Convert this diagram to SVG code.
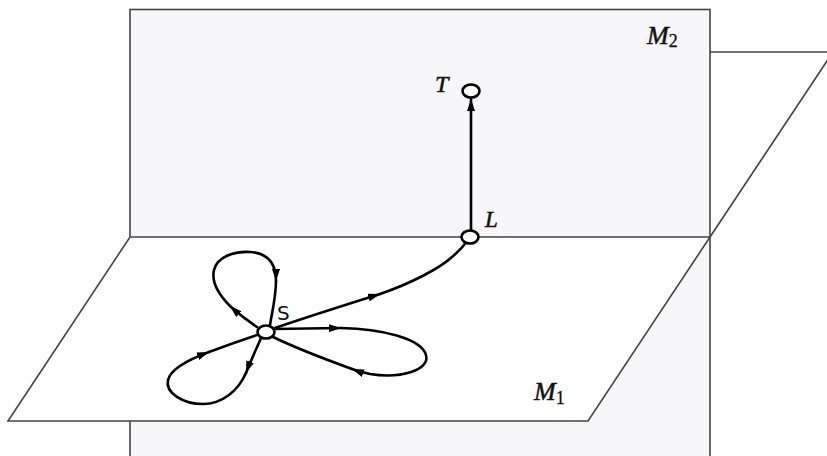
<svg xmlns="http://www.w3.org/2000/svg" width="827" height="456" viewBox="0 0 827 456">
<style>
.plane{stroke:#444;stroke-width:1.6;stroke-linejoin:miter}
.edge{fill:none;stroke:#444;stroke-width:1.6}
.curve{fill:none;stroke:#000;stroke-width:2.6;stroke-linecap:round}
.node{fill:#fff;stroke:#000;stroke-width:2.6}
.math{font-family:"Liberation Serif",serif;font-style:italic;fill:#111;stroke:#111;stroke-width:0.5}
.sub{font-family:"Liberation Serif",serif;font-style:normal;stroke-width:0.3}
.sans{font-family:"DejaVu Sans",sans-serif;fill:#111}
</style>
<defs>
<marker id="ah" viewBox="0 0 12 8" refX="12" refY="4" markerWidth="12" markerHeight="8" markerUnits="userSpaceOnUse" orient="auto">
<path d="M0,0 L12,4 L0,8 z" fill="#000"/>
</marker>
</defs>
<rect width="827" height="456" fill="#fff"/>
<g id="plane-M2">
<rect class="plane" x="130" y="9.5" width="580" height="460" fill="#f7f7f9"/>
</g>
<g id="plane-M1">
<line class="edge" x1="710" y1="52" x2="827" y2="52"/>
<polygon class="plane" points="130,237 710,237 588,421 8,421" fill="#fff"/>
<line class="edge" x1="710" y1="237" x2="833" y2="52"/>
</g>
<g id="connectors">
<path class="curve" d="M257 327 Q242 317 230 306" marker-end="url(#ah)"/>
<path class="curve" d="M230 306 C219 295 211 283 214 270 C217 257 234 251 250 252 C266 253 276 262 276 281" marker-end="url(#ah)"/>
<path class="curve" d="M276 281 C276 297 272 312 270 325"/>
<path class="curve" d="M274 329 L341 328" marker-end="url(#ah)"/>
<path class="curve" d="M341 328 C381 329 421 338 426 355 C430 370 401 379 370 374 Q360 372 352 369" marker-end="url(#ah)"/>
<path class="curve" d="M352 369 C330 361 300 350 273 337"/>
<path class="curve" d="M261 338 C256 350 250 362 246 373" marker-end="url(#ah)"/>
<path class="curve" d="M246 373 C238 391 222 404 203 404 C183 404 165 393 168 380 C171 368 190 359 209 352" marker-end="url(#ah)"/>
<path class="curve" d="M209 352 C225 346 242 340 257 335"/>
<path class="curve" d="M275 328 C310 316 345 305 380 294" marker-end="url(#ah)"/>
<path class="curve" d="M380 294 C412 283 440 268 452 257 C460 250 464 246 466 242"/>
<path class="curve" d="M471 231 L471 99" marker-end="url(#ah)"/>
</g>
<g id="node-S">
<ellipse class="node" cx="266" cy="332" rx="8.5" ry="6.5"/>
<text class="sans" x="277" y="320" font-size="20">S</text>
</g>
<g id="node-L">
<ellipse class="node" cx="470" cy="237" rx="8.5" ry="6.5"/>
<text class="math" x="485" y="227" font-size="23">L</text>
</g>
<g id="node-T">
<ellipse class="node" cx="471" cy="91" rx="8.5" ry="6.5"/>
<text class="math" x="435" y="92" font-size="24">T</text>
</g>
<g id="labels">
<text class="math" x="647" y="44" font-size="26">M<tspan class="sub" font-size="18" dy="3">2</tspan></text>
<text class="math" x="534" y="400" font-size="26">M<tspan class="sub" font-size="18" dy="4">1</tspan></text>
</g>
</svg>
